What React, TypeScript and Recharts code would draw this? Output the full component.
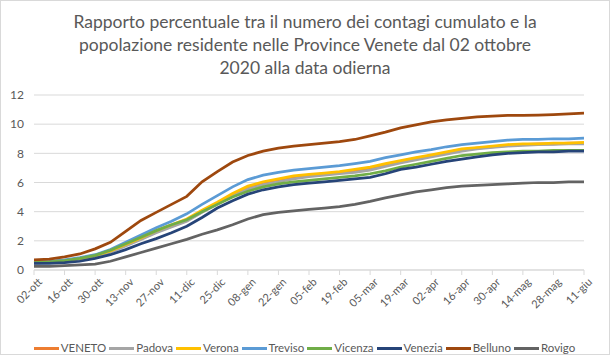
import { LineChart, Line, XAxis, YAxis, CartesianGrid } from 'recharts'

const FONT = 'Lato, "Open Sans", sans-serif'
const TEXT = '#595959'
const GRID = '#D9D9D9'

// settimane dal 02-ott-2020 all'11-giu-2021
const dates = [
  '02-ott', '09-ott', '16-ott', '23-ott', '30-ott', '06-nov', '13-nov', '20-nov', '27-nov',
  '04-dic', '11-dic', '18-dic', '25-dic', '01-gen', '08-gen', '15-gen', '22-gen', '29-gen',
  '05-feb', '12-feb', '19-feb', '26-feb', '05-mar', '12-mar', '19-mar', '26-mar', '02-apr',
  '09-apr', '16-apr', '23-apr', '30-apr', '07-mag', '14-mag', '21-mag', '28-mag', '04-giu', '11-giu',
]

const veneto = [
  0.5, 0.55, 0.65, 0.75, 0.95, 1.25, 1.7, 2.15, 2.6, 3.0, 3.4, 4.0, 4.55, 5.15, 5.65, 5.95, 6.15, 6.35,
  6.5, 6.6, 6.7, 6.8, 6.95, 7.2, 7.45, 7.65, 7.85, 8.05, 8.25, 8.35, 8.45, 8.55, 8.6, 8.65, 8.65, 8.7, 8.7,
]
const padova = [
  0.45, 0.5, 0.6, 0.72, 0.92, 1.2, 1.65, 2.1, 2.55, 2.95, 3.35, 3.95, 4.5, 5.05, 5.55, 5.85, 6.05, 6.25,
  6.4, 6.5, 6.6, 6.7, 6.85, 7.1, 7.35, 7.55, 7.75, 7.95, 8.15, 8.3, 8.4, 8.5, 8.55, 8.6, 8.62, 8.65, 8.65,
]
const verona = [
  0.5, 0.55, 0.65, 0.8, 1.0, 1.3, 1.75, 2.2, 2.7, 3.1, 3.5, 4.1, 4.65, 5.25, 5.75, 6.05, 6.25, 6.45,
  6.55, 6.65, 6.75, 6.9, 7.05, 7.3, 7.5, 7.7, 7.9, 8.1, 8.3, 8.4, 8.5, 8.6, 8.65, 8.65, 8.7, 8.7, 8.75,
]
const treviso = [
  0.55, 0.6, 0.7, 0.85, 1.05, 1.4, 1.9, 2.4, 2.9, 3.35, 3.85, 4.5, 5.1, 5.7, 6.2, 6.5, 6.7, 6.85,
  6.95, 7.05, 7.15, 7.3, 7.45, 7.7, 7.9, 8.1, 8.25, 8.45, 8.6, 8.7, 8.8, 8.9, 8.95, 8.95, 9.0, 9.0, 9.05,
]
const vicenza = [
  0.5, 0.55, 0.65, 0.8, 1.0, 1.35, 1.8, 2.25, 2.7, 3.1, 3.45, 4.0, 4.5, 5.0, 5.4, 5.7, 5.9, 6.05,
  6.15, 6.25, 6.35, 6.45, 6.6, 6.8, 7.05, 7.25, 7.45, 7.65, 7.85, 7.95, 8.05, 8.1, 8.15, 8.15, 8.2, 8.2, 8.2,
]
const venezia = [
  0.45, 0.45, 0.5, 0.6, 0.8, 1.05, 1.4, 1.8, 2.15, 2.55, 3.0, 3.6, 4.25, 4.75, 5.2, 5.5, 5.7, 5.85,
  5.95, 6.05, 6.15, 6.25, 6.35, 6.6, 6.9, 7.05, 7.25, 7.45, 7.6, 7.75, 7.9, 8.0, 8.05, 8.1, 8.1, 8.15, 8.15,
]
const belluno = [
  0.7, 0.75, 0.9, 1.1, 1.45, 1.9, 2.65, 3.4, 3.95, 4.5, 5.05, 6.05, 6.75, 7.4, 7.85, 8.15, 8.35, 8.5,
  8.6, 8.7, 8.8, 8.95, 9.2, 9.45, 9.75, 9.95, 10.15, 10.3, 10.4, 10.5, 10.55, 10.6, 10.6, 10.62, 10.65, 10.7, 10.75,
]
const rovigo = [
  0.25, 0.25, 0.3, 0.35, 0.4, 0.6, 0.9, 1.2, 1.5, 1.8, 2.1, 2.45, 2.75, 3.1, 3.5, 3.8, 3.95, 4.05,
  4.15, 4.25, 4.35, 4.5, 4.7, 4.95, 5.15, 5.35, 5.5, 5.65, 5.75, 5.8, 5.85, 5.9, 5.95, 6.0, 6.0, 6.05, 6.05,
]

const yTicks = [0, 2, 4, 6, 8, 10, 12]

const series = [
  { name: 'VENETO', values: veneto, color: '#ED7D31' },
  { name: 'Padova', values: padova, color: '#A5A5A5' },
  { name: 'Verona', values: verona, color: '#FFC000' },
  { name: 'Treviso', values: treviso, color: '#5B9BD5' },
  { name: 'Vicenza', values: vicenza, color: '#70AD47' },
  { name: 'Venezia', values: venezia, color: '#264478' },
  { name: 'Belluno', values: belluno, color: '#9E480E' },
  { name: 'Rovigo', values: rovigo, color: '#636363' },
]

const data = dates.map((d, i) => {
  const row: Record<string, any> = { date: d }
  series.forEach(s => { row[s.name] = s.values[i] })
  return row
})

const DateTick = ({ x, y, payload }: any) => (
  <g transform={`translate(${x + 6},${y + 3})`}>
    <text transform='rotate(-45)' textAnchor='end' dy='0.35em' fontSize={11} fill={TEXT} fontFamily={FONT}>
      {payload.value}
    </text>
  </g>
)

export default function App() {
  return (
    <div style={{
      position: 'absolute', left: 0, top: 0, width: 610, height: 355,
      background: '#fff', border: `1px solid ${GRID}`, boxSizing: 'border-box', fontFamily: FONT,
    }}>
      <div style={{
        position: 'absolute', left: 0, right: 0, top: 9, textAlign: 'center',
        fontSize: 17.5, lineHeight: '23px', color: TEXT,
      }}>
        Rapporto percentuale tra il numero dei contagi cumulato e la<br />
        popolazione residente nelle Province Venete dal 02 ottobre<br />
        2020 alla data odierna
      </div>

      <div style={{ position: 'absolute', left: -1, top: -1 }}>
        <LineChart width={610} height={355} data={data} margin={{ top: 95, right: 26, left: 10, bottom: 30 }}>
          <CartesianGrid horizontal vertical={false} stroke={GRID} />
          <XAxis
            dataKey='date'
            interval={1}
            height={55}
            tick={<DateTick />}
            tickLine={{ stroke: GRID }}
            tickSize={5}
            axisLine={{ stroke: GRID }}
          />
          <YAxis
            domain={[0, 12]}
            ticks={yTicks}
            width={24}
            axisLine={false}
            tickLine={false}
            tickMargin={4}
            tick={{ fontSize: 12, fill: TEXT, fontFamily: FONT }}
          />
          {series.map(s => (
            <Line
              key={s.name}
              dataKey={s.name}
              stroke={s.color}
              strokeWidth={2.75}
              dot={false}
              type='linear'
              isAnimationActive={false}
            />
          ))}
        </LineChart>
      </div>

      <div style={{
        position: 'absolute', left: 2, right: 0, top: 339, display: 'flex', justifyContent: 'center',
        fontSize: 11.5, color: TEXT, lineHeight: '16px',
      }}>
        {series.map(s => (
          <div key={s.name} style={{ display: 'flex', alignItems: 'center', marginRight: 3 }}>
            <span style={{ display: 'inline-block', width: 25, height: 3, background: s.color, marginRight: 2 }} />
            <span>{s.name}</span>
          </div>
        ))}
      </div>
    </div>
  )
}
